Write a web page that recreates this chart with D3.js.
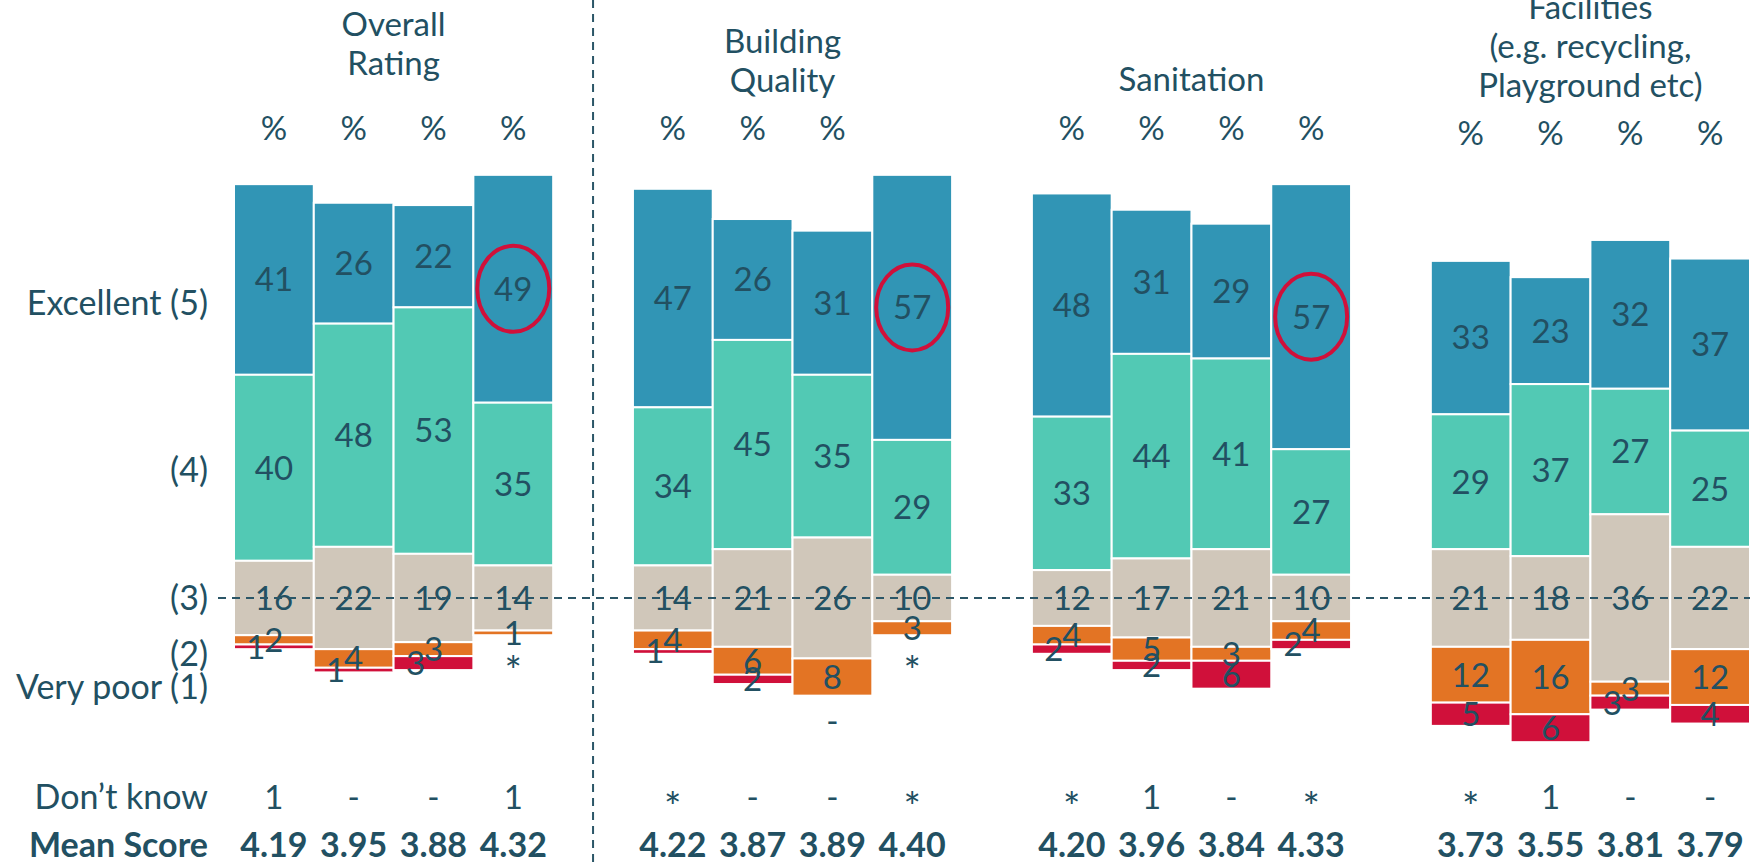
<!DOCTYPE html>
<html>
<head>
<meta charset="utf-8">
<script src="https://cdn.jsdelivr.net/npm/d3@7"></script>
<style>
  body { margin: 0; background: #fff; }
  svg text { font-family: Lato, "Open Sans", sans-serif; fill: #225062; }
</style>
</head>
<body>
<div id="chart"></div>
<script>
// survey groups, four bars each
const groups = ["Overall\nRating", "Building\nQuality", "Sanitation", "Facilities\n(e.g. recycling,\nPlayground etc)"];
const pctHeaders = [["%", "%", "%", "%"], ["%", "%", "%", ""], ["%", "%", "%", "%"], ["%", "%", "%", "%"]];

// "*" = less than 0.5%, "-" = none
const excellent = [[41, 26, 22, 49], [47, 26, 31, 57], [48, 31, 29, 57], [33, 23, 32, 37]];
const good = [[40, 48, 53, 35], [34, 45, 35, 29], [33, 44, 41, 27], [29, 37, 27, 25]];
const average = [[16, 22, 19, 14], [14, 21, 26, 10], [12, 17, 21, 10], [21, 18, 36, 22]];
const poor = [[2, 4, 3, 1], [4, 6, 8, 3], [4, 5, 3, 4], [12, 16, 3, 12]];
const veryPoor = [[1, 1, 3, "*"], [1, 2, "-", "*"], [2, 2, 6, 2], [5, 6, 3, 4]];
const dontKnow = [["1", "-", "-", "1"], ["*", "-", "-", "*"], ["*", "1", "-", "*"], ["*", "1", "-", "-"]];
const meanScore = [["4.19", "3.95", "3.88", "4.32"], ["4.22", "3.87", "3.89", "4.40"], ["4.20", "3.96", "3.84", "4.33"], ["3.73", "3.55", "3.81", "3.79"]];

const ratingLabels = ["Excellent (5)", "(4)", "(3)", "(2)", "Very poor (1)"];
const ratingTicks = [63.5, 27.5, 0, -12, -19];
const circled = [[0, 3], [1, 3], [2, 3]];

const colors = ["#3195b5", "#52c9b4", "#d0c7ba", "#e37424", "#d0103a"];

const W = 1750, H = 862;
const FS = 33;
const num = v => typeof v === "number" ? v : 0;

const svg = d3.select("#chart").append("svg")
    .attr("width", W)
    .attr("height", H);

// 5 slots per group, the last one is the gap
const x = d3.scaleBand().domain(d3.range(19)).range([234, 1750]);
const y = d3.scaleLinear().domain([-30, 90]).range([598 + 30 * 4.65, 598 - 90 * 4.65]);
const bw = x.bandwidth();

// asterisks sit high in the font, so draw them bigger and lower
function label(sel, t) {
  sel.text(t);
  if (t === "*") sel.attr("font-size", FS + 8).attr("dy", "0.62em");
  return sel;
}

// build the diverging stacks
const bars = [];
groups.forEach((g, gi) => {
  d3.range(4).forEach(bi => {
    const half = average[gi][bi] / 2;
    const vals = [excellent[gi][bi], good[gi][bi], average[gi][bi], poor[gi][bi], veryPoor[gi][bi]];
    const g4 = num(vals[1]), g5 = num(vals[0]), p2 = num(vals[3]), p1 = num(vals[4]);
    const segs = [
      {k: 0, v: vals[0], y0: half + g4, y1: half + g4 + g5},
      {k: 1, v: vals[1], y0: half, y1: half + g4},
      {k: 2, v: vals[2], y0: -half, y1: half},
      {k: 3, v: vals[3], y0: -half - p2, y1: -half},
      {k: 4, v: vals[4], y0: -half - p2 - p1, y1: -half - p2}
    ];
    bars.push({gi, bi, slot: gi * 5 + bi, segs});
  });
});

const barG = svg.selectAll(".bar")
    .data(bars)
    .enter()
    .append("g")
    .attr("class", "bar")
    .attr("transform", d => "translate(" + x(d.slot) + ",0)");

barG.selectAll("rect")
    .data(d => d.segs.filter(s => s.y1 - s.y0 > 0))
    .enter()
    .append("rect")
    .attr("x", 0)
    .attr("width", bw)
    .attr("y", s => y(s.y1))
    .attr("height", s => y(s.y0) - y(s.y1))
    .attr("fill", s => colors[s.k])
    .attr("stroke", "#fff")
    .attr("stroke-width", 2);

// dashed reference lines
const midX = x(4) + bw / 2;
svg.append("line")
    .attr("x1", midX).attr("x2", midX)
    .attr("y1", 0).attr("y2", H)
    .attr("stroke", "#2b5667").attr("stroke-width", 2)
    .attr("stroke-dasharray", "8,6");
svg.append("line")
    .attr("x1", 218).attr("x2", W)
    .attr("y1", y(0)).attr("y2", y(0))
    .attr("stroke", "#2b5667").attr("stroke-width", 2)
    .attr("stroke-dasharray", "8,6");

// segment labels
barG.each(function(d) {
  const g = d3.select(this);
  const cy = d.segs.map(s => (y(s.y0) + y(s.y1)) / 2);
  d.segs.forEach((s, i) => {
    let ly = cy[i];
    let lx = bw / 2;
    if (typeof s.v !== "number") ly = y(s.y0) + 25;
    if (i === 4 && typeof s.v === "number" && cy[4] - cy[3] < 14.5) lx -= 18;
    g.append("text")
        .attr("x", lx)
        .attr("y", ly)
        .attr("dy", "0.36em")
        .attr("text-anchor", "middle")
        .attr("font-size", FS)
        .call(label, String(s.v));
  });
});

// highlight circles
svg.selectAll(".hl")
    .data(circled)
    .enter()
    .append("ellipse")
    .attr("class", "hl")
    .attr("cx", d => x(d[0] * 5 + d[1]) + bw / 2)
    .attr("cy", d => {
      const b = bars.find(b => b.gi === d[0] && b.bi === d[1]);
      return (y(b.segs[0].y0) + y(b.segs[0].y1)) / 2;
    })
    .attr("rx", 36)
    .attr("ry", 43)
    .attr("fill", "none")
    .attr("stroke", "#d0103a")
    .attr("stroke-width", 4);

// group titles
const titleLastY = [63, 80, 79, 85];
const titleShift = [0, -10, 0, 0];
groups.forEach((g, gi) => {
  const lines = g.split("\n");
  const cx = x(gi * 5) + 2 * bw + titleShift[gi];
  const t = svg.append("text")
      .attr("text-anchor", "middle")
      .attr("font-size", FS);
  lines.forEach((l, li) => {
    t.append("tspan")
        .attr("x", cx)
        .attr("y", titleLastY[gi] - (lines.length - 1 - li) * 39)
        .attr("dy", "0.36em")
        .text(l);
  });
});

// % headers, don't know and mean rows
bars.forEach(b => {
  const cx = x(b.slot) + bw / 2;
  svg.append("text")
      .attr("x", cx).attr("y", b.gi === 3 ? 133 : 128).attr("dy", "0.36em")
      .attr("text-anchor", "middle").attr("font-size", FS)
      .text(pctHeaders[b.gi][b.bi]);
  svg.append("text")
      .attr("x", cx).attr("y", 797).attr("dy", "0.36em")
      .attr("text-anchor", "middle").attr("font-size", FS)
      .call(label, dontKnow[b.gi][b.bi]);
  svg.append("text")
      .attr("x", cx).attr("y", 845).attr("dy", "0.36em")
      .attr("text-anchor", "middle").attr("font-size", FS + 1)
      .attr("font-weight", "bold")
      .text(meanScore[b.gi][b.bi]);
});

// rating labels on the left
svg.selectAll(".rating")
    .data(ratingLabels)
    .enter()
    .append("text")
    .attr("class", "rating")
    .attr("x", 208)
    .attr("y", (d, i) => y(ratingTicks[i]))
    .attr("dy", "0.36em")
    .attr("text-anchor", "end")
    .attr("font-size", FS + 1)
    .text(d => d);

svg.append("text")
    .attr("x", 208).attr("y", 797).attr("dy", "0.36em")
    .attr("text-anchor", "end").attr("font-size", FS + 1)
    .text("Don’t know");
svg.append("text")
    .attr("x", 208).attr("y", 845).attr("dy", "0.36em")
    .attr("text-anchor", "end").attr("font-size", FS + 1)
    .attr("font-weight", "bold")
    .text("Mean Score");
</script>
</body>
</html>
